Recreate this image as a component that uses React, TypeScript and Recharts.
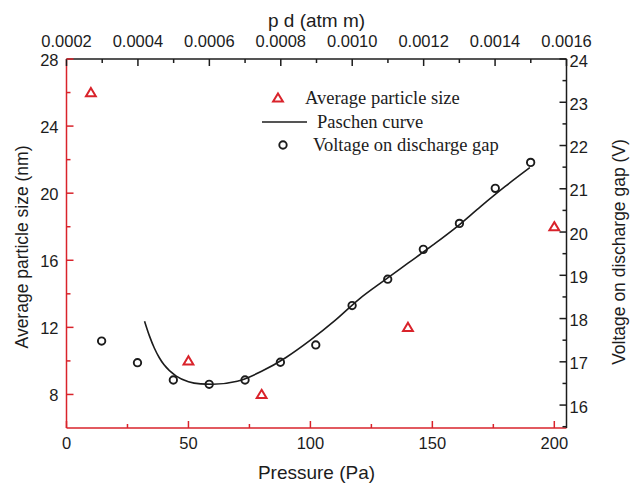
import React from 'react';
import { ComposedChart, Line, Scatter, XAxis, YAxis } from 'recharts';

const RED = '#d9232b';
const INK = '#1c1c1c';
const SANS = '"Liberation Sans", Arial, sans-serif';
const SERIF = '"Liberation Serif", "Times New Roman", serif';

// Average particle size (nm) vs pressure (Pa)
const sizePressure = [10, 50, 80, 140, 200];
const sizeValues = [26, 10, 8, 12, 18];

// Voltage on discharge gap (V) vs pressure (Pa)
const gapPressure = [14.4, 29.1, 43.8, 58.5, 73.2, 87.7, 102.2, 117.1, 131.7, 146.3, 161.1, 175.8, 190.3];
const gapVoltage = [17.48, 16.98, 16.58, 16.48, 16.58, 16.99, 17.39, 18.3, 18.91, 19.6, 20.2, 21.01, 21.61];

// Paschen curve
const paschenPressure = [32, 34, 36, 38, 40, 45, 50, 55, 60, 70, 80, 90, 100, 110, 120, 130, 140, 150, 160, 170, 180, 190];
const paschenVoltage = [17.94, 17.6, 17.32, 17.1, 16.93, 16.67, 16.54, 16.49, 16.48, 16.55, 16.78, 17.1, 17.5, 17.95, 18.45, 18.87, 19.28, 19.69, 20.12, 20.6, 21.06, 21.49];

const pressureTicks = [0, 25, 50, 75, 100, 125, 150, 175, 200];
const sizeTicks = [8, 10, 12, 14, 16, 18, 20, 22, 24, 26, 28];
const voltageTicks = [15.5, 16, 16.5, 17, 17.5, 18, 18.5, 19, 19.5, 20, 20.5, 21, 21.5, 22, 22.5, 23, 23.5, 24];
const pdTicks = [0.0002, 0.0003, 0.0004, 0.0005, 0.0006, 0.0007, 0.0008, 0.0009, 0.001, 0.0011, 0.0012, 0.0013, 0.0014, 0.0015, 0.0016];

const sizeData = sizePressure.map((p, i) => ({ p, s: sizeValues[i] }));
const gapData = gapPressure.map((p, i) => ({ p, v: gapVoltage[i] }));
const paschenData = paschenPressure.map((p, i) => ({ p, v: paschenVoltage[i] }));
// only there so the top (p d) axis has something to scale
const pdData = pdTicks.map((pd) => ({ pd, v: 20 }));

const tickText = { fontFamily: SANS, fontSize: 16.5, fill: INK };

const BottomTick = ({ x, y, payload }: any) => {
  const major = payload.value % 50 === 0;
  return (
    <g>
      <line x1={x} x2={x} y1={y} y2={y - (major ? 7 : 4)} stroke={RED} strokeWidth={1.5} />
      {major && (
        <text x={x} y={y + 15} textAnchor="middle" dominantBaseline="central" style={tickText}>
          {payload.value}
        </text>
      )}
    </g>
  );
};

const TopTick = ({ x, y, payload }: any) => {
  const major = Math.round(payload.value * 10000) % 2 === 0;
  return (
    <g>
      <line x1={x} x2={x} y1={y} y2={y + (major ? 7 : 4)} stroke={INK} strokeWidth={1.5} />
      {major && (
        <text x={x} y={y - 18} textAnchor="middle" dominantBaseline="central" style={tickText}>
          {payload.value.toFixed(4)}
        </text>
      )}
    </g>
  );
};

const LeftTick = ({ x, y, payload }: any) => {
  const major = payload.value % 4 === 0;
  return (
    <g>
      <line x1={x} x2={x + (major ? 7 : 4)} y1={y} y2={y} stroke={RED} strokeWidth={1.5} />
      {major && (
        <text x={x - 8} y={y + 1} textAnchor="end" dominantBaseline="central" style={tickText}>
          {payload.value}
        </text>
      )}
    </g>
  );
};

const RightTick = ({ x, y, payload }: any) => {
  const major = Number.isInteger(payload.value);
  return (
    <g>
      <line x1={x} x2={x - (major ? 7 : 4)} y1={y} y2={y} stroke={INK} strokeWidth={1.5} />
      {major && (
        <text x={x + 3} y={y + 1.5} textAnchor="start" dominantBaseline="central" style={tickText}>
          {payload.value}
        </text>
      )}
    </g>
  );
};

const Triangle = ({ cx, cy }: any) => (
  <path
    d={`M${cx},${cy - 4.6} L${cx + 4.9},${cy + 3.6} L${cx - 4.9},${cy + 3.6} Z`}
    fill="none"
    stroke={RED}
    strokeWidth={2}
  />
);

const Ring = ({ cx, cy }: any) => (
  <circle cx={cx} cy={cy} r={3.7} fill="none" stroke={INK} strokeWidth={1.9} />
);

const Nothing = () => <g />;

const titleStyle = { fontFamily: SANS, fill: INK };
const legendText = { fontFamily: SERIF, fontSize: 18.5, fill: INK };

const LegendBox = () => (
  <svg
    width={330}
    height={90}
    style={{ position: 'absolute', left: 230, top: 80, overflow: 'visible', pointerEvents: 'none' }}
  >
    <Triangle cx={48} cy={18} />
    <text x={75} y={18} dominantBaseline="central" style={legendText}>
      Average particle size
    </text>
    <line x1={32} x2={77} y1={42} y2={42} stroke={INK} strokeWidth={1.6} />
    <text x={87} y={42} dominantBaseline="central" style={legendText}>
      Paschen curve
    </text>
    <Ring cx={53} cy={65} />
    <text x={83} y={65} dominantBaseline="central" style={legendText}>
      Voltage on discharge gap
    </text>
  </svg>
);

export default function App() {
  return (
    <div style={{ position: 'absolute', left: 0, top: 0, width: 630, height: 485, background: '#fff' }}>
      <ComposedChart width={630} height={485} margin={{ top: 0, right: 0, bottom: 0, left: 0 }}>
        <XAxis
          xAxisId="bottom"
          dataKey="p"
          type="number"
          domain={[0, 205]}
          ticks={pressureTicks}
          interval={0}
          height={57}
          tickSize={0}
          tickMargin={0}
          tickLine={false}
          tick={BottomTick}
          axisLine={{ stroke: RED, strokeWidth: 1.5 }}
          allowDataOverflow
          label={() => (
            <text x={316.5} y={472} textAnchor="middle" dominantBaseline="central" style={{ ...titleStyle, fontSize: 19 }}>
              Pressure (Pa)
            </text>
          )}
        />
        <XAxis
          xAxisId="top"
          dataKey="pd"
          orientation="top"
          type="number"
          domain={[0.0002, 0.0016]}
          ticks={pdTicks}
          interval={0}
          height={59}
          tickSize={0}
          tickMargin={0}
          tickLine={false}
          tick={TopTick}
          axisLine={{ stroke: INK, strokeWidth: 1.5 }}
          allowDataOverflow
          label={() => (
            <text x={316.5} y={20} textAnchor="middle" dominantBaseline="central" style={{ ...titleStyle, fontSize: 19 }}>
              p d (atm m)
            </text>
          )}
        />
        <YAxis
          yAxisId="left"
          type="number"
          domain={[6, 28]}
          ticks={sizeTicks}
          interval={0}
          width={66.5}
          tickSize={0}
          tickMargin={0}
          tickLine={false}
          tick={LeftTick}
          axisLine={{ stroke: RED, strokeWidth: 1.5 }}
          allowDataOverflow
          label={() => (
            <text
              x={22}
              y={247}
              textAnchor="middle"
              dominantBaseline="central"
              transform="rotate(-90 22 247)"
              style={{ ...titleStyle, fontSize: 17.5 }}
            >
              Average particle size (nm)
            </text>
          )}
        />
        <YAxis
          yAxisId="right"
          orientation="right"
          type="number"
          domain={[15.47, 24]}
          ticks={voltageTicks}
          interval={0}
          width={63.5}
          tickSize={0}
          tickMargin={0}
          tickLine={false}
          tick={RightTick}
          axisLine={{ stroke: INK, strokeWidth: 1.5 }}
          allowDataOverflow
          label={() => (
            <text
              x={619}
              y={252}
              textAnchor="middle"
              dominantBaseline="central"
              transform="rotate(-90 619 252)"
              style={{ ...titleStyle, fontSize: 17.5 }}
            >
              Voltage on discharge gap (V)
            </text>
          )}
        />
        <Scatter
          data={pdData}
          dataKey="v"
          xAxisId="top"
          yAxisId="right"
          shape={Nothing}
          legendType="none"
          isAnimationActive={false}
        />
        <Line
          data={paschenData}
          dataKey="v"
          xAxisId="bottom"
          yAxisId="right"
          type="monotone"
          stroke={INK}
          strokeWidth={1.6}
          dot={false}
          activeDot={false}
          isAnimationActive={false}
        />
        <Scatter
          data={gapData}
          dataKey="v"
          xAxisId="bottom"
          yAxisId="right"
          shape={Ring}
          isAnimationActive={false}
        />
        <Scatter
          data={sizeData}
          dataKey="s"
          xAxisId="bottom"
          yAxisId="left"
          shape={Triangle}
          isAnimationActive={false}
        />
      </ComposedChart>
      <LegendBox />
    </div>
  );
}
